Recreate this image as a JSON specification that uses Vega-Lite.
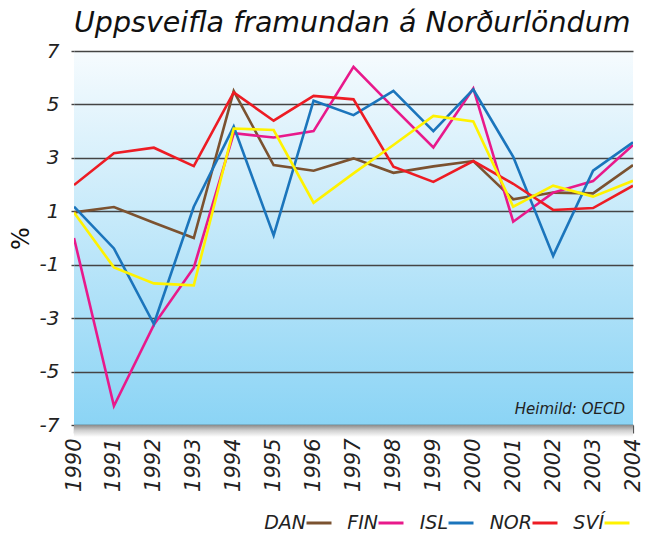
{
  "$schema": "https://vega.github.io/schema/vega-lite/v6.json",
  "width": 559,
  "height": 374,
  "autosize": "none",
  "padding": {"left": 74, "top": 51, "right": 15, "bottom": 108},
  "background": "white",
  "config": {
    "font": "DejaVu Sans",
    "view": {
      "stroke": null,
      "fill": {"gradient": "linear", "x1": 0, "y1": 0, "x2": 0, "y2": 1,
        "stops": [{"offset": 0, "color": "#f6fbfe"}, {"offset": 1, "color": "#8bd4f5"}]}
    },
    "axisX": {
      "format": "d", "title": null, "grid": false, "domain": false,
      "labelAngle": -90, "labelFontSize": 21, "labelFontStyle": "italic",
      "labelColor": "#222222", "labelPadding": 5, "tickSize": 8,
      "tickColor": "#555555", "tickWidth": 1.2, "labelFlush": false, "labelOverlap": false,
      "zindex": 1
    },
    "axisY": {
      "titleFontSize": 24, "titleFontWeight": "normal", "titleColor": "#111111",
      "titlePadding": 6,
      "grid": true, "gridColor": "#444444", "gridWidth": 1.4, "domain": false,
      "tickSize": 3, "tickColor": "#444444", "tickWidth": 1.4,
      "labelFontSize": 20, "labelFontStyle": "italic", "labelColor": "#222222",
      "labelPadding": 12, "labelFlush": false, "labelOverlap": false,
      "labelExpr": "(datum.value < 0 ? '-' : '') + abs(datum.value)"
    }
  },
  "title": {
    "text": "Uppsveifla framundan á Norðurlöndum",
    "anchor": "start",
    "frame": "group",
    "fontSize": 28.5,
    "fontStyle": "italic",
    "fontWeight": "normal",
    "color": "#111111",
    "offset": 4
  },
  "layer": [
    {
      "data": {"values": [{}]},
      "mark": {"type": "rect", "clip": false,
        "fill": {"gradient": "linear", "x1": 0, "y1": 0, "x2": 0, "y2": 1,
          "stops": [{"offset": 0, "color": "#8a8a8a"}, {"offset": 0.45, "color": "#cfcfcf"}, {"offset": 1, "color": "#ffffff"}]}},
      "encoding": {
        "x": {"datum": 1990, "type": "quantitative", "title": null,
          "axis": {"values": [1990,1991,1992,1993,1994,1995,1996,1997,1998,1999,2000,2001,2002,2003,2004]}},
        "x2": {"datum": 2004},
        "y": {"datum": -7, "type": "quantitative", "title": "%",
          "axis": {"values": [-7, -5, -3, -1, 1, 3, 5, 7]}},
        "y2": {"datum": -7.45}
      }
    },
    {
      "data": {
        "values": [
          {"year": 1990, "country": "DAN", "value": 0.96},
          {"year": 1991, "country": "DAN", "value": 1.16},
          {"year": 1992, "country": "DAN", "value": 0.57},
          {"year": 1993, "country": "DAN", "value": 0.0},
          {"year": 1994, "country": "DAN", "value": 5.5},
          {"year": 1995, "country": "DAN", "value": 2.73},
          {"year": 1996, "country": "DAN", "value": 2.52},
          {"year": 1997, "country": "DAN", "value": 2.98},
          {"year": 1998, "country": "DAN", "value": 2.44},
          {"year": 1999, "country": "DAN", "value": 2.68},
          {"year": 2000, "country": "DAN", "value": 2.88},
          {"year": 2001, "country": "DAN", "value": 1.45},
          {"year": 2002, "country": "DAN", "value": 1.7},
          {"year": 2003, "country": "DAN", "value": 1.67},
          {"year": 2004, "country": "DAN", "value": 2.73},
          {"year": 1990, "country": "FIN", "value": 0.0},
          {"year": 1991, "country": "FIN", "value": -6.29},
          {"year": 1992, "country": "FIN", "value": -3.25},
          {"year": 1993, "country": "FIN", "value": -1.11},
          {"year": 1994, "country": "FIN", "value": 3.92},
          {"year": 1995, "country": "FIN", "value": 3.76},
          {"year": 1996, "country": "FIN", "value": 4.0},
          {"year": 1997, "country": "FIN", "value": 6.41},
          {"year": 1998, "country": "FIN", "value": 4.88},
          {"year": 1999, "country": "FIN", "value": 3.39},
          {"year": 2000, "country": "FIN", "value": 5.6},
          {"year": 2001, "country": "FIN", "value": 0.61},
          {"year": 2002, "country": "FIN", "value": 1.7},
          {"year": 2003, "country": "FIN", "value": 2.13},
          {"year": 2004, "country": "FIN", "value": 3.48},
          {"year": 1990, "country": "ISL", "value": 1.17},
          {"year": 1991, "country": "ISL", "value": -0.39},
          {"year": 1992, "country": "ISL", "value": -3.22},
          {"year": 1993, "country": "ISL", "value": 1.17},
          {"year": 1994, "country": "ISL", "value": 4.17},
          {"year": 1995, "country": "ISL", "value": 0.1},
          {"year": 1996, "country": "ISL", "value": 5.14},
          {"year": 1997, "country": "ISL", "value": 4.6},
          {"year": 1998, "country": "ISL", "value": 5.51},
          {"year": 1999, "country": "ISL", "value": 4.0},
          {"year": 2000, "country": "ISL", "value": 5.56},
          {"year": 2001, "country": "ISL", "value": 3.04},
          {"year": 2002, "country": "ISL", "value": -0.67},
          {"year": 2003, "country": "ISL", "value": 2.52},
          {"year": 2004, "country": "ISL", "value": 3.58},
          {"year": 1990, "country": "NOR", "value": 1.98},
          {"year": 1991, "country": "NOR", "value": 3.17},
          {"year": 1992, "country": "NOR", "value": 3.38},
          {"year": 1993, "country": "NOR", "value": 2.69},
          {"year": 1994, "country": "NOR", "value": 5.45},
          {"year": 1995, "country": "NOR", "value": 4.39},
          {"year": 1996, "country": "NOR", "value": 5.32},
          {"year": 1997, "country": "NOR", "value": 5.19},
          {"year": 1998, "country": "NOR", "value": 2.67},
          {"year": 1999, "country": "NOR", "value": 2.1},
          {"year": 2000, "country": "NOR", "value": 2.88},
          {"year": 2001, "country": "NOR", "value": 2.03},
          {"year": 2002, "country": "NOR", "value": 1.05},
          {"year": 2003, "country": "NOR", "value": 1.12},
          {"year": 2004, "country": "NOR", "value": 1.96},
          {"year": 1990, "country": "SVÍ", "value": 0.95},
          {"year": 1991, "country": "SVÍ", "value": -1.1},
          {"year": 1992, "country": "SVÍ", "value": -1.7},
          {"year": 1993, "country": "SVÍ", "value": -1.77},
          {"year": 1994, "country": "SVÍ", "value": 4.1},
          {"year": 1995, "country": "SVÍ", "value": 4.04},
          {"year": 1996, "country": "SVÍ", "value": 1.32},
          {"year": 1997, "country": "SVÍ", "value": 2.42},
          {"year": 1998, "country": "SVÍ", "value": 3.48},
          {"year": 1999, "country": "SVÍ", "value": 4.57},
          {"year": 2000, "country": "SVÍ", "value": 4.36},
          {"year": 2001, "country": "SVÍ", "value": 1.17},
          {"year": 2002, "country": "SVÍ", "value": 1.96},
          {"year": 2003, "country": "SVÍ", "value": 1.55},
          {"year": 2004, "country": "SVÍ", "value": 2.14}
        ]
      },
      "mark": {"type": "line", "strokeWidth": 2.6, "clip": true},
      "encoding": {
        "x": {
          "field": "year", "type": "quantitative", "title": null,
          "scale": {"domain": [1990, 2004], "nice": false, "zero": false},
          "axis": {"values": [1990,1991,1992,1993,1994,1995,1996,1997,1998,1999,2000,2001,2002,2003,2004]}
        },
        "y": {
          "field": "value", "type": "quantitative", "title": "%",
          "scale": {"domain": [-7, 7], "nice": false, "zero": false},
          "axis": {"values": [-7, -5, -3, -1, 1, 3, 5, 7]}
        },
        "color": {
          "field": "country", "type": "nominal",
          "scale": {
            "domain": ["DAN", "FIN", "ISL", "NOR", "SVÍ"],
            "range": ["#7b5230", "#e8198b", "#1b75bc", "#ed1c24", "#fff200"]
          },
          "legend": {
            "title": null, "orient": "none", "legendX": 231, "legendY": 458,
            "direction": "horizontal", "columns": 5,
            "symbolType": "stroke", "symbolSize": 625, "symbolStrokeWidth": 3,
            "labelFontSize": 19, "labelFontStyle": "italic", "labelColor": "#222222",
            "labelAlign": "right", "labelOffset": -27, "columnPadding": 9,
            "labelLimit": 200
          }
        }
      }
    },
    {
      "data": {"values": [{}]},
      "mark": {"type": "text", "text": "Heimild: OECD", "align": "right", "baseline": "middle",
        "fontSize": 15, "fontStyle": "italic", "color": "#222222", "dx": -8, "dy": -16},
      "encoding": {
        "x": {"datum": 2004, "type": "quantitative", "title": null,
          "axis": {"values": [1990,1991,1992,1993,1994,1995,1996,1997,1998,1999,2000,2001,2002,2003,2004]}},
        "y": {"datum": -7, "type": "quantitative", "title": "%",
          "axis": {"values": [-7, -5, -3, -1, 1, 3, 5, 7]}}
      }
    }
  ]
}
